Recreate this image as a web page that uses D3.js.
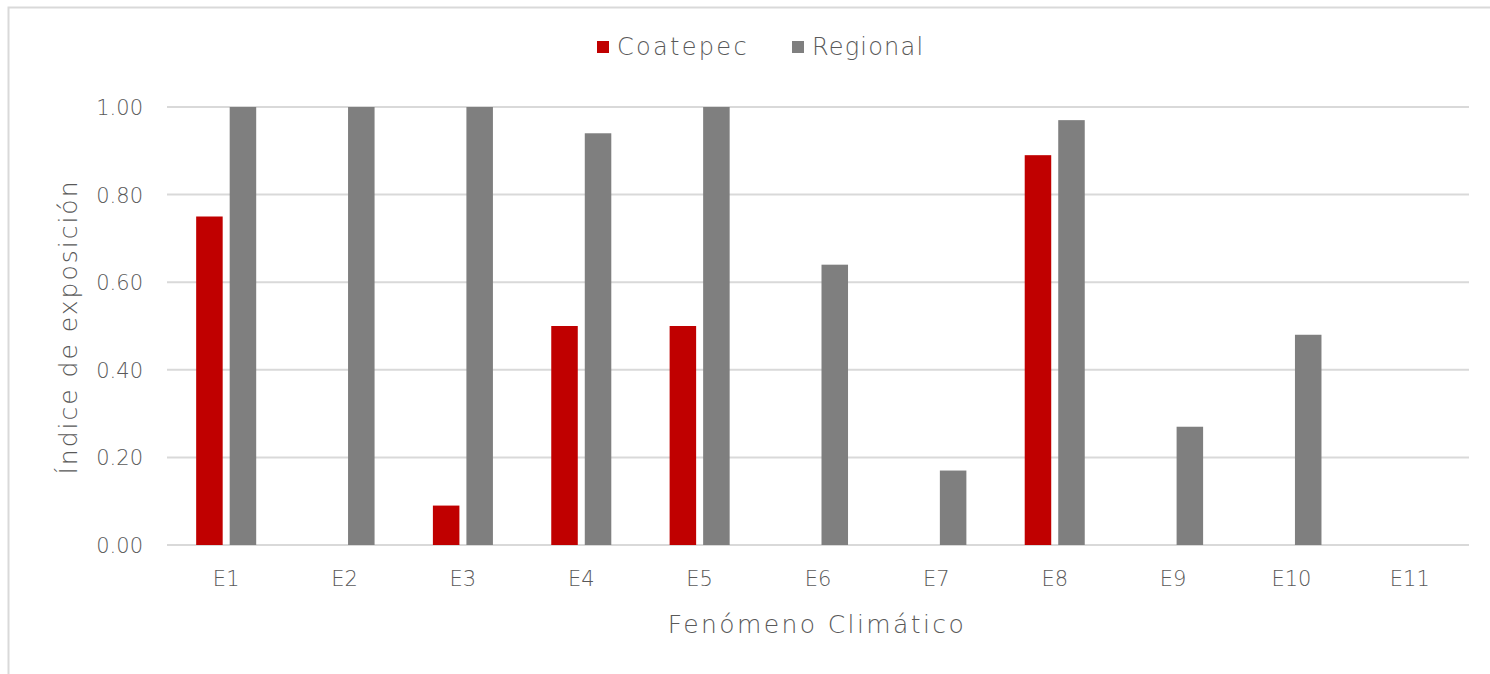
<!DOCTYPE html>
<html><head><meta charset="utf-8">
<script src="https://cdn.jsdelivr.net/npm/d3@7"></script>
<style>
html,body{margin:0;padding:0;background:#fff;}
svg text{font-family:"DejaVu Sans","Century Gothic",sans-serif;fill:#595959;font-weight:200;}
</style></head>
<body><svg id="c" width="1490" height="674"></svg>
<script>
const categories = ["E1","E2","E3","E4","E5","E6","E7","E8","E9","E10","E11"];
const coatepec = [0.75,0,0.09,0.50,0.50,0,0,0.89,0,0,0];
const regional = [1.00,1.00,1.00,0.94,1.00,0.64,0.17,0.97,0.27,0.48,0];
const seriesNames = ["Coatepec","Regional"];
const seriesColors = ["#c00000","#7f7f7f"];
const yTicks = [0,0.2,0.4,0.6,0.8,1.0];

const svg = d3.select("#c");
// outer frame
svg.append("rect").attr("x",8.5).attr("y",7.5).attr("width",1500).attr("height",700)
  .attr("fill","none").attr("stroke","#d9d9d9").attr("stroke-width",2);

const m = {l:167, r:1469, t:107, b:545};
const x = d3.scaleBand().domain(categories).range([m.l,m.r]);
const xs = d3.scaleBand().domain(seriesNames).range([0,x.bandwidth()]).paddingInner(0.209).paddingOuter(0.87);
const y = d3.scaleLinear().domain([0,1]).range([m.b,m.t]);

// grid
svg.append("g").selectAll("line").data(yTicks).join("line")
  .attr("x1",m.l).attr("x2",m.r).attr("y1",d=>y(d)).attr("y2",d=>y(d))
  .attr("stroke","#d9d9d9").attr("stroke-width",2);

// y labels
const yAxis = d3.axisLeft(y).tickValues(yTicks).tickFormat(d3.format(".2f")).tickSize(0).tickPadding(0);
const ya = svg.append("g").attr("transform",`translate(${m.l-24},0)`).call(yAxis);
ya.select(".domain").remove();
ya.selectAll("text").style("font-size","21px").attr("fill","#595959").attr("dy","0.36em");

// x labels
const xAxis = d3.axisBottom(x).tickSize(0).tickPadding(0);
const xa = svg.append("g").attr("transform",`translate(0,${m.b+26})`).call(xAxis);
xa.select(".domain").remove();
xa.selectAll("text").style("font-size","21px").attr("fill","#595959").attr("dy","0.71em");
svg.selectAll("g").attr("font-family",null).attr("font-size",null);

// bars
const data = [coatepec, regional];
data.forEach((vals,si)=>{
  svg.append("g").selectAll("rect").data(categories.map((c,i)=>({c,v:vals[i]})).filter(d=>d.v>0)).join("rect")
    .attr("x",d=>x(d.c)+xs(seriesNames[si]))
    .attr("width",xs.bandwidth())
    .attr("y",d=>y(d.v))
    .attr("height",d=>y(0)-y(d.v))
    .attr("fill",seriesColors[si]);
});

// axis titles
svg.append("text").attr("x",817).attr("y",633).attr("text-anchor","middle").style("font-size","25px").style("letter-spacing","2.4px").text("Fenómeno Climático");
svg.append("text").attr("transform","translate(77,327) rotate(-90)").attr("text-anchor","middle").style("font-size","25px").style("letter-spacing","2px").text("Índice de exposición");

// legend
const lg = svg.append("g");
const legendX = [597,792];
const legendSpacing = ["2.3px","1.2px"];
seriesNames.forEach((n,i)=>{
  lg.append("rect").attr("x",legendX[i]).attr("y",41).attr("width",12).attr("height",12).attr("fill",seriesColors[i]);
  lg.append("text").attr("x",legendX[i]+20).attr("y",47).attr("dy","0.35em").style("font-size","24px").style("letter-spacing",legendSpacing[i]).text(n);
});
</script></body></html>
